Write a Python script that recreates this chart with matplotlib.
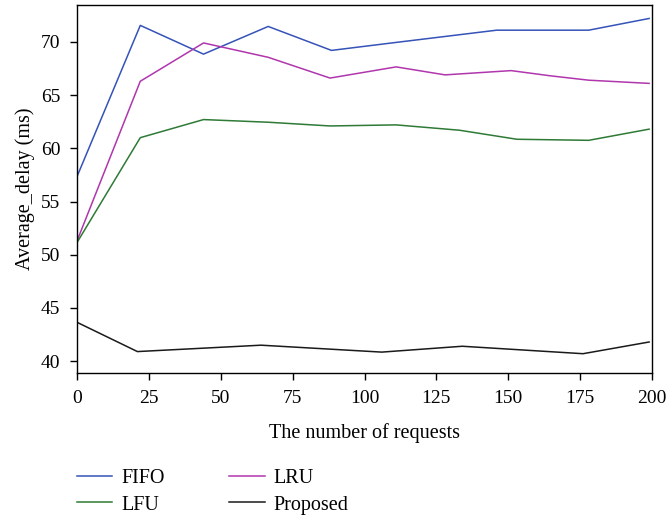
import matplotlib.pyplot as plt

plt.rcParams['font.family'] = ['Liberation Serif', 'DejaVu Serif']

# datos
x_fifo = [0, 22, 44, 66.5, 88.5, 111, 146, 178, 199]
fifo = [57.35, 71.55, 68.85, 71.45, 69.2, 69.95, 71.1, 71.1, 72.2]

x_lru = [0, 22, 44, 66.5, 88, 111, 128, 151, 165, 178, 199]
lru = [51.3, 66.3, 69.9, 68.55, 66.6, 67.65, 66.9, 67.3, 66.8, 66.4, 66.1]

x_lfu = [0, 22, 44, 66.5, 88, 111, 133, 153, 178, 199]
lfu = [51.15, 61.0, 62.7, 62.45, 62.1, 62.2, 61.7, 60.85, 60.75, 61.8]

x_prop = [0, 21, 64, 106, 134, 176, 199]
proposed = [43.65, 40.9, 41.5, 40.85, 41.4, 40.7, 41.8]

fig = plt.figure(figsize=(6.67, 5.15), dpi=100)
ax = fig.add_axes([0.1155, 0.276, 0.862, 0.715])

l1, = ax.plot(x_fifo, fifo, color='#3553b8', lw=1.1, label='FIFO')
l2, = ax.plot(x_lru, lru, color='#b036ad', lw=1.1, label='LRU')
l3, = ax.plot(x_lfu, lfu, color='#2e7a36', lw=1.1, label='LFU')
l4, = ax.plot(x_prop, proposed, color='#1a1a1a', lw=1.1, label='Proposed')

ax.set_xlim(0, 200)
ax.set_ylim(38.9, 73.5)
ax.set_xticks(range(0, 201, 25))
ax.set_yticks(range(40, 71, 5))
ax.tick_params(direction='out', length=5, width=1, labelsize=14, pad=7, top=False, right=False)
for s in ax.spines.values():
    s.set_linewidth(1)

ax.set_xlabel('The number of requests', fontsize=14.5, labelpad=12)
ax.set_ylabel('Average_delay (ms)', fontsize=14.5, labelpad=4)

# orden para que quede FIFO, LRU arriba y LFU, Proposed abajo
ax.legend([l1, l3, l2, l4], ['FIFO', 'LFU', 'LRU', 'Proposed'],
          loc='upper left', bbox_to_anchor=(-0.014, -0.24), ncol=2, frameon=False,
          fontsize=14.5, handlelength=1.75, columnspacing=3.2, labelspacing=0.35,
          handletextpad=0.45, borderaxespad=0)

plt.savefig('out.png', dpi=100)
